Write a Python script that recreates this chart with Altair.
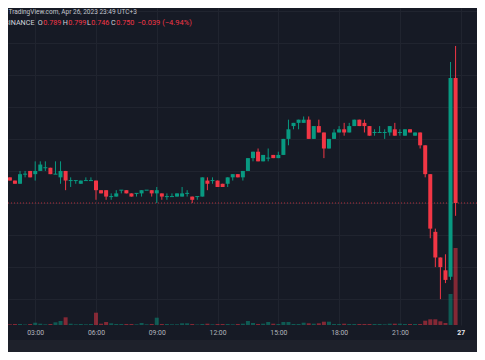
import altair as alt
import pandas as pd

# ---- data (15-minute candles, Apr 26 2023 01:30 -> 23:45) ----
opens = [0.757, 0.758, 0.757, 0.756, 0.759, 0.760, 0.759, 0.760, 0.761, 0.761,
         0.759, 0.758, 0.760, 0.757, 0.757, 0.756, 0.757, 0.757, 0.757, 0.754,
         0.754, 0.752, 0.752, 0.754, 0.754, 0.753, 0.753, 0.753, 0.754, 0.754,
         0.753, 0.753, 0.752, 0.752, 0.752, 0.752, 0.753, 0.752, 0.752, 0.752,
         0.757, 0.757, 0.757, 0.756, 0.756, 0.758, 0.759, 0.758, 0.760, 0.764,
         0.766, 0.763, 0.764, 0.765, 0.764, 0.765, 0.770, 0.774, 0.775, 0.775,
         0.776, 0.770, 0.774, 0.772, 0.767, 0.770, 0.772, 0.773, 0.772, 0.774,
         0.776, 0.775, 0.774, 0.772, 0.772, 0.772, 0.772, 0.773, 0.772, 0.771,
         0.773, 0.771, 0.772, 0.768, 0.759, 0.741, 0.733, 0.729, 0.727, 0.789]
highs = [0.758, 0.758, 0.757, 0.760, 0.760, 0.760, 0.763, 0.763, 0.763, 0.761,
         0.763, 0.763, 0.760, 0.758, 0.757, 0.757, 0.758, 0.758, 0.757, 0.754,
         0.754, 0.753, 0.754, 0.754, 0.754, 0.753, 0.753, 0.754, 0.754, 0.754,
         0.755, 0.753, 0.753, 0.753, 0.753, 0.755, 0.754, 0.752, 0.752, 0.758,
         0.758, 0.758, 0.757, 0.756, 0.758, 0.759, 0.759, 0.760, 0.764, 0.766,
         0.767, 0.765, 0.767, 0.765, 0.766, 0.770, 0.776, 0.775, 0.776, 0.777,
         0.777, 0.774, 0.776, 0.772, 0.770, 0.773, 0.774, 0.775, 0.775, 0.776,
         0.776, 0.776, 0.774, 0.773, 0.774, 0.773, 0.774, 0.775, 0.773, 0.773,
         0.773, 0.772, 0.772, 0.768, 0.759, 0.742, 0.733, 0.734, 0.794, 0.799]
lows = [0.757, 0.757, 0.756, 0.756, 0.758, 0.758, 0.757, 0.760, 0.760, 0.759,
        0.759, 0.756, 0.754, 0.755, 0.756, 0.756, 0.757, 0.757, 0.751, 0.753,
        0.751, 0.751, 0.752, 0.753, 0.753, 0.752, 0.752, 0.752, 0.754, 0.752,
        0.750, 0.751, 0.751, 0.752, 0.752, 0.752, 0.752, 0.750, 0.751, 0.752,
        0.754, 0.756, 0.755, 0.755, 0.755, 0.757, 0.758, 0.757, 0.760, 0.763,
        0.763, 0.763, 0.763, 0.764, 0.764, 0.765, 0.768, 0.773, 0.773, 0.775,
        0.770, 0.770, 0.772, 0.764, 0.767, 0.770, 0.772, 0.771, 0.772, 0.774,
        0.774, 0.772, 0.771, 0.771, 0.772, 0.770, 0.771, 0.771, 0.771, 0.771,
        0.772, 0.771, 0.767, 0.758, 0.739, 0.730, 0.720, 0.725, 0.726, 0.746]
closes = [0.758, 0.757, 0.756, 0.759, 0.759, 0.758, 0.760, 0.762, 0.761, 0.759,
          0.759, 0.760, 0.757, 0.757, 0.757, 0.757, 0.757, 0.757, 0.754, 0.753,
          0.752, 0.752, 0.753, 0.754, 0.753, 0.752, 0.753, 0.754, 0.754, 0.753,
          0.754, 0.752, 0.752, 0.752, 0.753, 0.753, 0.753, 0.751, 0.752, 0.758,
          0.756, 0.757, 0.755, 0.755, 0.758, 0.759, 0.758, 0.760, 0.764, 0.766,
          0.763, 0.765, 0.764, 0.764, 0.765, 0.770, 0.773, 0.775, 0.776, 0.776,
          0.770, 0.774, 0.772, 0.767, 0.770, 0.772, 0.773, 0.772, 0.774, 0.776,
          0.774, 0.774, 0.771, 0.772, 0.772, 0.772, 0.774, 0.771, 0.772, 0.773,
          0.772, 0.772, 0.768, 0.759, 0.742, 0.733, 0.730, 0.726, 0.789, 0.750]
volumes = [10, 7, 10, 10, 5, 10, 23, 13, 7, 10,
           27, 40, 77, 13, 7, 10, 7, 10, 123, 13,
           30, 17, 10, 10, 10, 10, 7, 20, 7, 10,
           73, 10, 10, 7, 7, 17, 17, 10, 5, 10,
           13, 7, 10, 10, 10, 7, 10, 13, 40, 20,
           10, 13, 30, 13, 10, 30, 30, 10, 10, 23,
           17, 13, 17, 33, 33, 10, 10, 13, 10, 10,
           10, 10, 10, 10, 10, 7, 13, 13, 13, 10,
           10, 10, 10, 43, 57, 57, 37, 20, 310, 770]
times = pd.date_range("2023-04-26 01:30", periods=len(opens), freq="15min")

header_line1 = "TradingView.com, Apr 26, 2023 23:49 UTC+3"
header_symbol = "15, BINANCE"
ohlc_letters = ["O", "H", "L", "C"]
ohlc_values = ["0.789", "0.799", "0.746", "0.750"]
change_text = "\u22120.039 (\u22124.94%)"
last_price = 0.750
price_grid = [0.72, 0.73, 0.74, 0.75, 0.76, 0.77, 0.78, 0.79, 0.80, 0.81]
time_ticks = [(26, h) for h in (3, 6, 9, 12, 15, 18, 21)] + [(27, 0)]

df = pd.DataFrame({"time": times, "open": opens, "high": highs,
                   "low": lows, "close": closes, "volume": volumes})

UP = "#089981"
DOWN = "#f23645"
BG = "#161a25"
GRID = "#20242f"
TXT = "#b2b5be"
FONT = "Roboto"

W, H = 469, 317

x_scale = alt.Scale(
    domain=[alt.DateTime(year=2023, month=4, date=26, hours=1, minutes=54, seconds=12),
            alt.DateTime(year=2023, month=4, date=27, hours=0, minutes=33, seconds=36)],
    nice=False)
x_axis = alt.Axis(
    values=[alt.DateTime(year=2023, month=4, date=d, hours=h) for d, h in time_ticks],
    labelExpr="hours(datum.value) == 0 ? timeFormat(datum.value, '%d') : timeFormat(datum.value, '%H:%M')",
    labelFontWeight={"condition": {"test": "hours(datum.value) == 0", "value": "bold"}, "value": "normal"},
    labelColor={"condition": {"test": "hours(datum.value) == 0", "value": "#e8e9ec"}, "value": TXT},
    labelFont=FONT, labelFontSize=6.8, labelPadding=4, labelBaseline="top",
    ticks=False, tickSize=0, domain=False, grid=True, gridColor=GRID, gridWidth=1,
    title=None, labelFlush=False, labelOverlap=False)
x_enc = alt.X("time:T", scale=x_scale, axis=x_axis)

y_scale = alt.Scale(domain=[0.711934, 0.810842], nice=False, zero=False)
y_axis = alt.Axis(values=price_grid, labels=False, ticks=False, domain=False,
                  grid=True, gridColor=GRID, title=None)

color = alt.Color("dir:N", scale=alt.Scale(domain=["up", "down"], range=[UP, DOWN]), legend=None)

base = alt.Chart(df).transform_calculate(
    dir="datum.close >= datum.open ? 'up' : 'down'",
    body_top="datum.close == datum.open ? datum.close + 0.00016 : datum.close",
    body_bot="datum.close == datum.open ? datum.open - 0.00016 : datum.open",
)

volume_layer = base.mark_bar(size=4, opacity=0.5).encode(
    x=x_enc,
    y=alt.Y("volume:Q", scale=alt.Scale(domain=[0, 3170], nice=False), axis=None),
    color=color,
)

last_line = alt.Chart(alt.Data(values=[{}])).mark_rule(
    color=DOWN, strokeDash=[1, 2], strokeWidth=1, opacity=0.7
).encode(y=alt.datum(last_price, scale=y_scale, axis=y_axis))

wicks = base.mark_rule(strokeWidth=1).encode(
    x=x_enc,
    y=alt.Y("low:Q", scale=y_scale, axis=y_axis),
    y2="high:Q",
    color=color,
)
bodies = base.mark_bar(size=4).encode(
    x=x_enc,
    y=alt.Y("body_bot:Q", scale=y_scale, axis=y_axis),
    y2="body_top:Q",
    color=color,
)
price_layer = alt.layer(last_line, wicks, bodies)


def txt(s, x, y, col, size, align="left"):
    return alt.Chart(alt.Data(values=[{}])).mark_text(
        text=s, align=align, baseline="middle", font=FONT, fontSize=size, color=col
    ).encode(x=alt.value(x), y=alt.value(y))


band = alt.Chart(alt.Data(values=[{}])).mark_rect(color="#1e212b").encode(
    x=alt.value(0), x2=alt.value(W), y=alt.value(332), y2=alt.value(H + 30))

texts = [txt(header_line1, 0.5, 4, "#c3c6ce", 6.5),
         txt(header_symbol, 26.5, 15.3, "#d1d4dc", 7.2, align="right")]
value_x = [35.2, 60.2, 83.2, 108.2]
for s, xx in zip(ohlc_letters, value_x):
    texts.append(txt(s, xx - 0.4, 15.3, "#d1d4dc", 7.2, align="right"))
for s, xx in zip(ohlc_values, value_x):
    texts.append(txt(s, xx, 15.3, DOWN, 7.2))
texts.append(txt(change_text, 129.2, 15.3, DOWN, 7.5))

chart = alt.layer(
    alt.layer(volume_layer, price_layer).resolve_scale(y="independent"),
    band, *texts
).properties(
    width=W, height=H,
    autosize=alt.AutoSizeParams(type="none"),
    padding={"left": 0, "top": 0, "right": 0, "bottom": 27},
    background=BG,
).configure_view(strokeWidth=0)

chart.save("out.html", embed_options={"renderer": "svg", "actions": False})
